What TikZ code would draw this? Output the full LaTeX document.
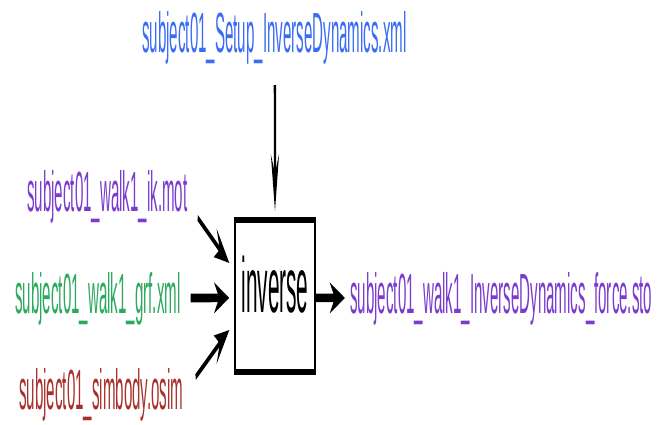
\documentclass[tikz,border=0pt]{standalone}
\usepackage{fontspec}
\setmainfont{Liberation Sans}
\usetikzlibrary{arrows.meta}
\definecolor{setupblue}{HTML}{3A6CF4}
\definecolor{motpurple}{HTML}{7A3CCF}
\definecolor{grfgreen}{HTML}{2AAA5C}
\definecolor{osimred}{HTML}{A8302C}
\tikzset{
  file/.style={anchor=base west, inner sep=0pt, font=\fontsize{15.1}{18}\selectfont},
  tool/.style={draw=black, line width=1.4pt, fill=white, minimum width=80pt,
    minimum height=40.5pt, text height=15pt, text depth=6pt,
    font=\fontsize{20.8}{24}\selectfont},
  flow/.style={draw=black, line width=2.3pt, -{Stealth[length=15pt,width=8pt]}},
  slant/.style={flow, line width=1.6pt}
}
\begin{document}
\begin{tikzpicture}[x=1pt, y=-1pt]
  \fill[white] (0,0) rectangle (663,425);
  \useasboundingbox (0,0) rectangle (663,425);
  % the whole diagram is drawn 3.75 times taller than wide
  \begin{scope}[transform canvas={yscale=3.75}]
    \node[file, text=setupblue] (setup) at (142,13.87) {subject01\_Setup\_InverseDynamics.xml};
    \node[file, text=motpurple] (ik) at (27,56.53) {subject01\_walk1\_ik.mot};
    \node[file, text=grfgreen] (grf) at (15,83.47) {subject01\_walk1\_grf.xml};
    \node[file, text=osimred] (osim) at (19,109.33) {subject01\_simbody.osim};
    \node[tool] (inv) at (275,78.93) {inverse};
    \node[file, text=motpurple] (out) at (350,83.73) {subject01\_walk1\_InverseDynamics\_force.sto};

    \draw[flow] ([xshift=0.5pt,yshift=-8.8pt]setup.base) -- ([yshift=1.6pt]inv.north);
    \draw[slant] ([xshift=10pt,yshift=-1.6pt]ik.base east) -- ([xshift=-5pt,yshift=8.8pt]inv.west);
    \draw[flow] ([xshift=10pt,yshift=4pt]grf.base east) -- ([xshift=-5pt,yshift=-0.5pt]inv.west);
    \draw[slant] ([xshift=12pt,yshift=8.8pt]osim.base east) -- ([xshift=-5pt,yshift=-9.07pt]inv.west);
    \draw[flow] ([yshift=-0.5pt]inv.east) -- ([xshift=-5pt,yshift=4.27pt]out.base west);
  \end{scope}
\end{tikzpicture}
\end{document}
